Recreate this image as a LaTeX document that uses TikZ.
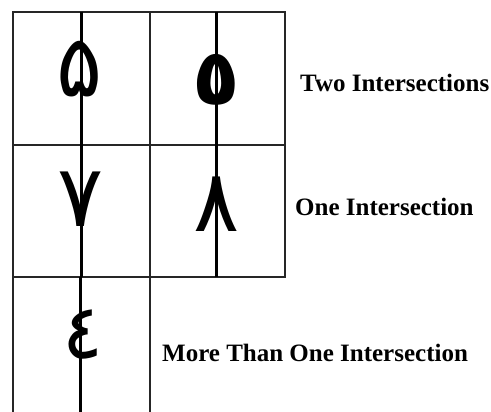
\documentclass[tikz,border=0pt]{standalone}
\usepackage{fontspec}
\setmainfont{Liberation Serif}
\newfontfamily\arabicfont[Script=Arabic]{DejaVu Sans}

\begin{document}
\begin{tikzpicture}[x=1pt, y=-1pt,
    cellline/.style={line width=1.6pt, black!85},
    crossline/.style={line width=3pt, black},
    digit/.style={inner sep=0pt, font=\arabicfont\fontsize{86}{88}\selectfont},
    smalldigit/.style={digit, font=\arabicfont\fontsize{76}{80}\selectfont},
    bolddigit/.style={digit, font=\arabicfont\bfseries\fontsize{78}{80}\selectfont},
    caption/.style={inner sep=0pt, anchor=base west, font=\bfseries\fontsize{25}{30}\selectfont}]
  \useasboundingbox (0,0) rectangle (491,412);

  % Grid corners
  \coordinate (g00) at (13,12);
  \coordinate (g10) at (150,12);
  \coordinate (g20) at (285,12);
  \coordinate (g01) at (13,145);
  \coordinate (g21) at (285,145);
  \coordinate (g02) at (13,277);
  \coordinate (g12) at (150,277);
  \coordinate (g22) at (285,277);
  \coordinate (g03) at (13,412);
  \coordinate (g13) at (150,412);

  % Cell borders
  \draw[cellline] (g00) -- (g20) -- (g22) -- (g02) -- cycle;
  \draw[cellline] (g01) -- (g21);
  \draw[cellline] (g10) -- (g12);
  \draw[cellline] (g02) -- (g03);
  \draw[cellline] (g12) -- (g13);

  % Digits
  \node[digit] (fiveA) at (80,69) {۵};
  \node[bolddigit] (fiveB) at (216,80) {٥};
  \node[digit] (seven) at (81,199) {٧};
  \node[digit] (eight) at (217,204) {٨};
  \node[smalldigit] (four)  at (83,335) {٤};

  % Crossing lines
  \coordinate (t1) at (81,12);   \coordinate (b1) at (81,277);
  \coordinate (t2) at (216,12);  \coordinate (b2) at (216,277);
  \coordinate (t3) at (80,277);  \coordinate (b3) at (80,412);
  \draw[crossline] (t1) -- (b1);
  \draw[crossline] (t2) -- (b2);
  \draw[crossline] (t3) -- (b3);

  % Captions
  \node[caption] (two)  at (300,92)  {Two Intersections};
  \node[caption] (one)  at (295,215) {One Intersection};
  \node[caption] (more) at (162,361) {More Than One Intersection};
\end{tikzpicture}
\end{document}
